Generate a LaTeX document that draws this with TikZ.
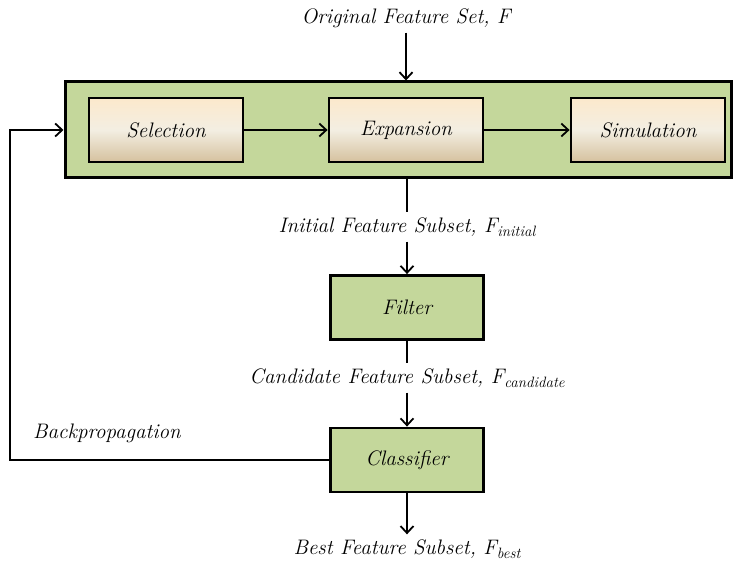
\documentclass[tikz,border=0pt]{standalone}
\usepackage{fix-cm}
\usepackage{fontspec}
\usetikzlibrary{arrows.meta}
\definecolor{boxgreen}{HTML}{C4D79B}
\definecolor{creamtop}{HTML}{FCE9CC}
\definecolor{creammid}{HTML}{F3EEE2}
\definecolor{tanbot}{HTML}{D5C19E}
\newcommand{\mysubs}[1]{\raisebox{-4pt}{\fontsize{15}{15}\selectfont\itshape #1}}
\begin{document}
\begin{tikzpicture}[x=1pt,y=-1pt,
  every node/.style={font=\fontsize{21}{24}\selectfont\itshape},
  outerbox/.style={draw=black,line width=3pt,fill=boxgreen,minimum width=666pt,minimum height=96pt,inner sep=0pt},
  innerbox/.style={draw=black,line width=2.8pt,top color=creamtop,bottom color=tanbot,middle color=creammid,minimum width=154pt,minimum height=64pt,inner sep=0pt},
  greenbox/.style={draw=black,line width=2.8pt,fill=boxgreen,minimum width=153pt,minimum height=64pt,inner sep=0pt},
  lbl/.style={inner sep=5pt},
  conn/.style={line width=1.8pt,-{Straight Barb[length=7pt,width=13pt,line width=1.8pt]}},
  plain/.style={line width=1.8pt}]
\useasboundingbox (0,0) rectangle (738,561);
\node[outerbox] (outer) at (398,130) {};
\node[innerbox] (sel) at (166,130) {Selection};
\node[innerbox] (exp) at (406,130) {Expansion};
\node[innerbox] (sim) at (648,130) {Simulation};
\node[greenbox] (filter) at (407,307.5) {Filter};
\node[greenbox] (clf) at (407,460) {Classifier};
\node[lbl] (orig) at (406,18) {Original Feature Set, F};
\node[lbl] (init) at (407,227) {Initial Feature Subset, F\mysubs{initial}};
\node[lbl] (cand) at (407,378) {Candidate Feature Subset, F\mysubs{candidate}};
\node[lbl] (best) at (407,549) {Best Feature Subset, F\mysubs{best}};
\node (bp) at (107,433) {Backpropagation};
\coordinate (bl) at (10,460);
\coordinate (tl) at (10,130);
\draw[conn] (sel.east) -- (exp.west);
\draw[conn] (exp.east) -- (sim.west);
\draw[conn] (orig.south) -- (orig.south |- outer.north);
\draw[plain] (outer.south -| init.north) -- (init.north);
\draw[conn] (init.south) -- (filter.north);
\draw[plain] (filter.south) -- (cand.north);
\draw[conn] (cand.south) -- (clf.north);
\draw[conn] (clf.south) -- (best.north);
\draw[conn] (clf.west) -- (bl) -- (tl) -- (outer.west);
\end{tikzpicture}
\end{document}
